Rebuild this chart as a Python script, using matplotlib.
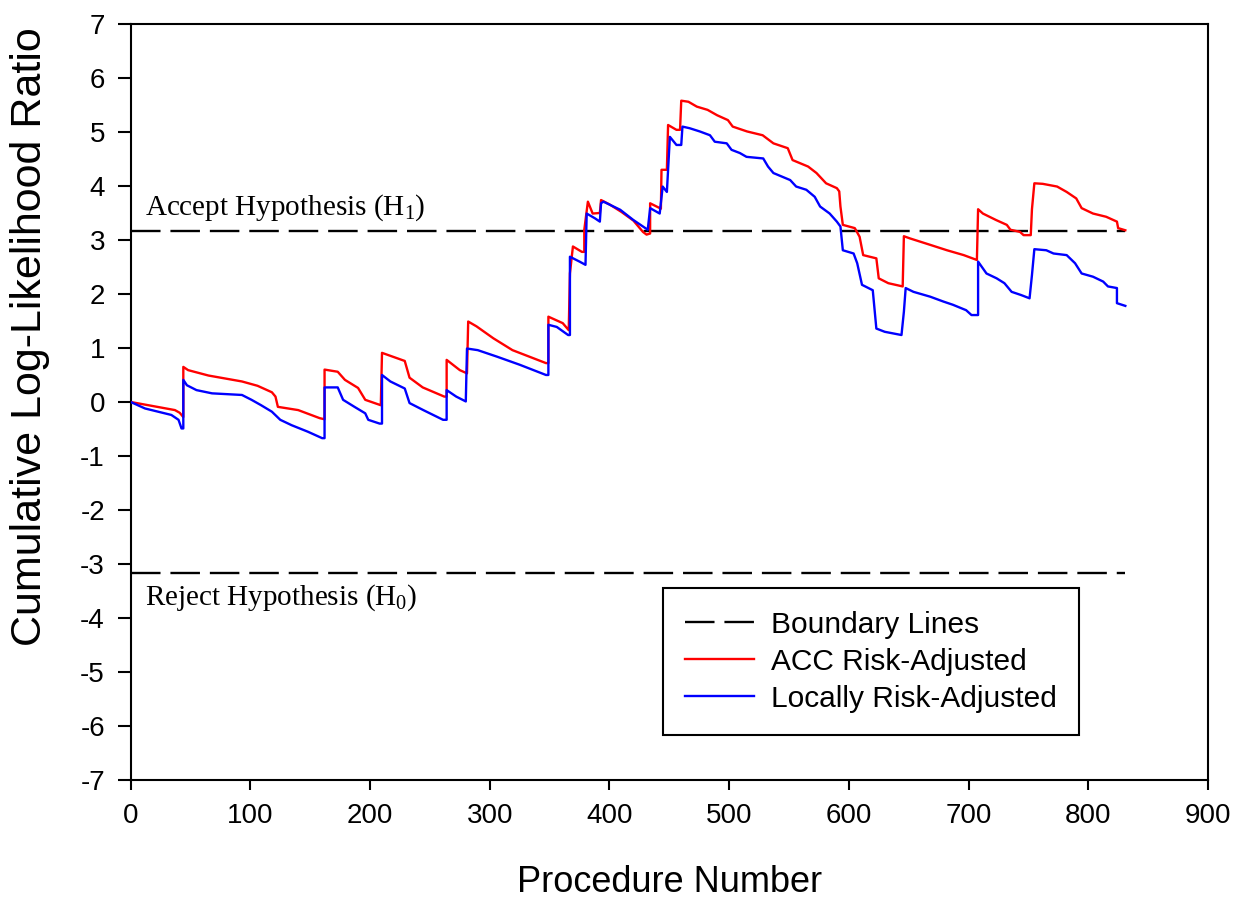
import matplotlib
matplotlib.use("Agg")
import matplotlib.pyplot as plt

plt.rcParams['font.family'] = ['Liberation Sans', 'DejaVu Sans']
plt.rcParams['axes.unicode_minus'] = False
plt.rcParams['mathtext.fontset'] = 'custom'
plt.rcParams['mathtext.rm'] = 'Liberation Serif'
plt.rcParams['mathtext.it'] = 'Liberation Serif:italic'

# curve vertices: (procedure number, cumulative LLR)
# a repeated x marks a jump
acc_x = [0, 37, 41, 44, 44, 48, 65, 93, 106, 118, 121, 123, 140, 158, 162, 162,
         173, 179, 190, 196, 209, 210, 229, 233, 244, 262, 264, 264, 275, 281,
         282, 289, 303, 319, 347, 349, 349, 361, 366, 367, 369.5, 377, 379, 379,
         382, 386, 392, 393, 400, 410, 420, 428, 431, 434, 434, 443, 443.5, 448,
         449, 456, 459, 460, 466, 473, 482, 490, 499, 503, 515, 528, 537, 549,
         553, 566, 573, 581, 590, 592, 593, 595, 605, 609, 612, 623, 625, 633,
         645, 646, 651, 668, 682, 696, 707, 708, 712, 723, 732, 735, 743, 746,
         752, 753, 755, 762, 774, 782, 790, 794.5, 804, 815, 824, 825, 831]
acc_y = [0, -0.15, -0.20, -0.28, 0.65, 0.59, 0.49, 0.38, 0.30, 0.18, 0.10,
         -0.09, -0.15, -0.30, -0.32, 0.60, 0.56, 0.41, 0.26, 0.04, -0.06, 0.91,
         0.76, 0.45, 0.27, 0.10, 0.10, 0.78, 0.59, 0.53, 1.49, 1.40, 1.18, 0.96,
         0.72, 0.72, 1.58, 1.46, 1.33, 2.38, 2.88, 2.78, 2.78, 3.19, 3.71, 3.49,
         3.50, 3.74, 3.66, 3.52, 3.36, 3.15, 3.10, 3.12, 3.68, 3.58, 4.30, 4.30,
         5.13, 5.04, 5.04, 5.58, 5.56, 5.47, 5.41, 5.31, 5.22, 5.10, 5.01, 4.94,
         4.79, 4.70, 4.48, 4.36, 4.24, 4.05, 3.96, 3.90, 3.62, 3.28, 3.22, 3.06,
         2.72, 2.66, 2.29, 2.20, 2.14, 3.07, 3.03, 2.91, 2.81, 2.72, 2.63, 3.57,
         3.49, 3.37, 3.28, 3.19, 3.15, 3.09, 3.09, 3.57, 4.05, 4.04, 3.99, 3.89,
         3.77, 3.59, 3.49, 3.43, 3.34, 3.22, 3.18]

loc_x = [0, 12, 23, 34, 40, 42.5, 44, 44, 47, 55, 68, 93, 101, 109, 118, 125,
         134.5, 148, 160, 162, 162, 173, 177.5, 187, 196, 198.5, 208, 210, 210,
         217, 229, 233, 244.5, 261, 264, 264, 272, 280, 281, 290, 306, 325, 347,
         349, 349, 356, 365.5, 367, 367, 375, 380, 381, 388, 392, 393, 395, 409,
         420, 428, 432, 434, 442, 444.5, 448, 450.5, 456, 460, 461, 467, 475.5,
         484, 488, 498, 502, 509, 514.5, 528.5, 532.5, 537, 551, 556, 564.5,
         571.5, 576, 584, 590, 593, 595, 604, 607, 611, 620, 623, 630, 644, 646,
         647.5, 654, 668, 679, 687, 698, 702.5, 708, 708, 715, 723.5, 730, 736,
         744, 751, 753, 755, 765, 771, 782, 789, 794.5, 804, 812.5, 816.5, 824,
         824, 831]
loc_y = [0, -0.12, -0.18, -0.24, -0.33, -0.49, -0.49, 0.41, 0.31, 0.22, 0.16,
         0.13, 0.04, -0.06, -0.18, -0.33, -0.43, -0.55, -0.67, -0.67, 0.27, 0.27,
         0.04, -0.09, -0.21, -0.33, -0.40, -0.40, 0.50, 0.38, 0.25, -0.02, -0.15,
         -0.33, -0.33, 0.22, 0.10, 0.01, 0.99, 0.96, 0.84, 0.69, 0.50, 0.50, 1.43,
         1.39, 1.24, 1.24, 2.69, 2.60, 2.54, 3.49, 3.40, 3.34, 3.68, 3.71, 3.56,
         3.37, 3.25, 3.19, 3.59, 3.49, 3.99, 3.89, 4.91, 4.76, 4.76, 5.10, 5.07,
         5.01, 4.94, 4.82, 4.79, 4.67, 4.61, 4.54, 4.51, 4.36, 4.24, 4.11, 3.99,
         3.93, 3.80, 3.62, 3.49, 3.34, 3.25, 2.81, 2.75, 2.57, 2.17, 2.07, 1.36,
         1.30, 1.24, 1.67, 2.11, 2.04, 1.95, 1.86, 1.80, 1.70, 1.61, 1.61, 2.60,
         2.38, 2.29, 2.20, 2.04, 1.98, 1.92, 2.35, 2.83, 2.81, 2.75, 2.72, 2.57,
         2.38, 2.32, 2.23, 2.14, 2.11, 1.83, 1.78]

boundary = 3.16
x_ticks = list(range(0, 1000, 100))
y_ticks = list(range(-7, 8))

fig = plt.figure(figsize=(12.49, 8.99), dpi=100)
ax = fig.add_axes([0.1046, 0.1324, 0.8625, 0.8409])

dash = (12.5, 4.2)
ax.hlines([boundary, -boundary], 0, acc_x[-1], colors='black', lw=1.7,
          linestyles=[(0, dash)], zorder=2)
ax.plot(acc_x, acc_y, color='#ff0000', lw=1.7, zorder=3)
ax.plot(loc_x, loc_y, color='#0000ff', lw=1.7, zorder=4)

ax.text(12, 3.46, r"Accept Hypothesis (H$_{1}$)", family='Liberation Serif',
        fontsize=21, va='baseline', ha='left')
ax.text(12, -3.76, r"Reject Hypothesis (H$_{0}$)", family='Liberation Serif',
        fontsize=21, va='baseline', ha='left')

ax.set_xlim(0, 900)
ax.set_ylim(-7, 7)
ax.set_xticks(x_ticks)
ax.set_yticks(y_ticks)
for s in ax.spines.values():
    s.set_linewidth(1.5)
ax.tick_params(axis='y', direction='out', length=9.5, width=1.5, pad=9, labelsize=20)
ax.tick_params(axis='x', direction='out', length=7.5, width=1.5, pad=9, labelsize=20)

ax.set_xlabel("Procedure Number", fontsize=26)
ax.xaxis.set_label_coords(0.5, -0.112)
ax.set_ylabel("Cumulative Log-Likelihood Ratio", fontsize=31)
ax.yaxis.set_label_coords(-0.075, 0.586)

h_b = plt.Line2D([], [], color='black', lw=1.7, linestyle=(0, dash))
h_a = plt.Line2D([], [], color='#ff0000', lw=1.7)
h_l = plt.Line2D([], [], color='#0000ff', lw=1.7)
leg = ax.legend([h_b, h_a, h_l],
                ["Boundary Lines", "ACC Risk-Adjusted", "Locally Risk-Adjusted"],
                loc='lower left', bbox_to_anchor=(0.494, 0.0595), borderaxespad=0,
                fontsize=21.5, handlelength=2.3, handletextpad=0.57,
                borderpad=0.75, labelspacing=0.3, fancybox=False,
                framealpha=1, edgecolor='black')
leg.get_frame().set_linewidth(1.5)

fig.savefig("out.png", dpi=100)
